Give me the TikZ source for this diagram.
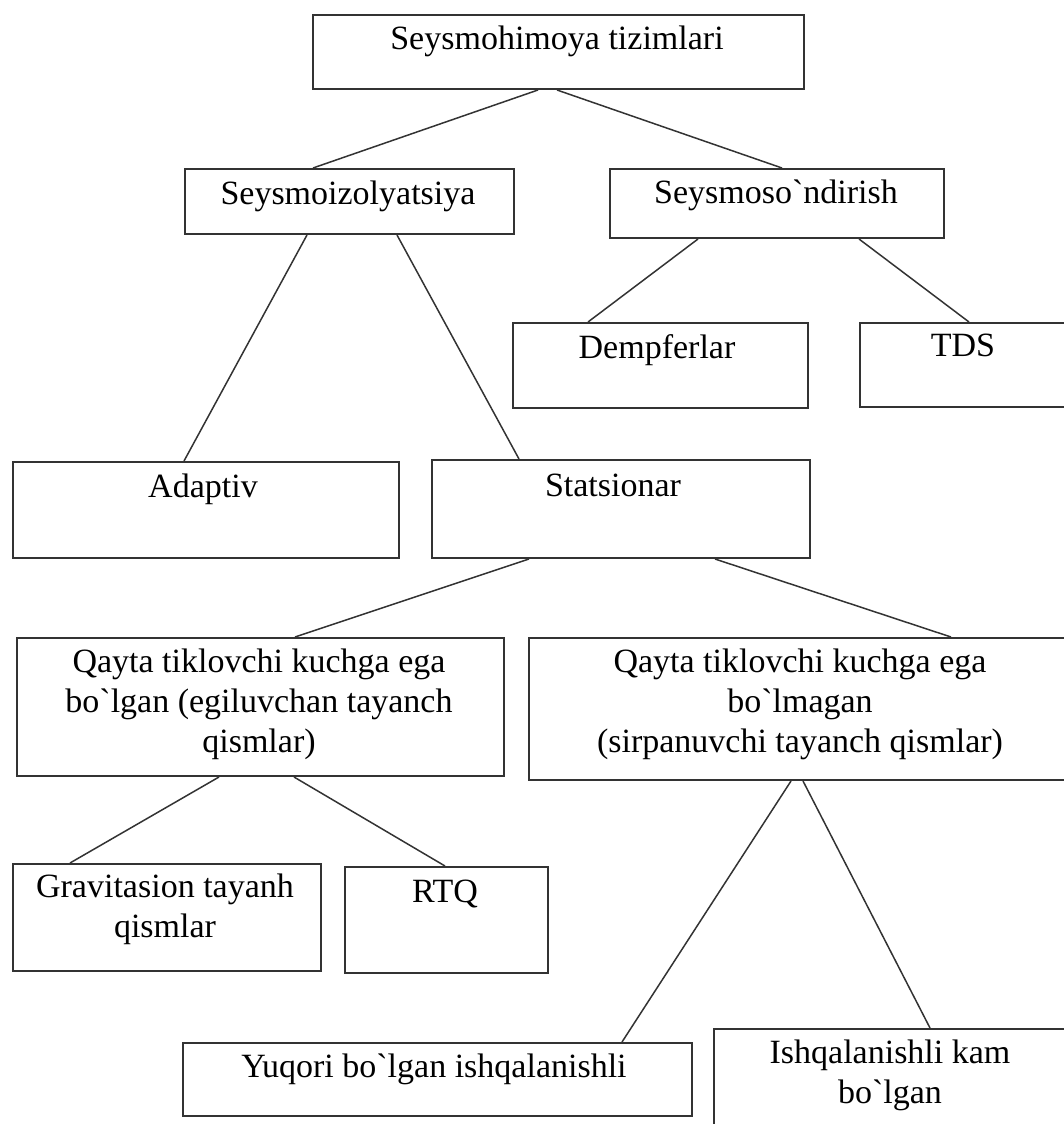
\documentclass[tikz,border=0pt]{standalone}
\usepackage{fontspec}
\newfontfamily\uzfont{Liberation Serif}
\tikzset{
    box/.style={draw=black!80, line width=2pt, inner sep=0pt, anchor=north west},
    txt/.style={font=\uzfont\fontsize{34}{40}\selectfont, align=center, anchor=base, inner sep=0pt},
    link/.style={draw=black!80, line width=1.5pt}
}
\begin{document}
\begin{tikzpicture}[x=1pt,y=-1pt]
    \clip (0,0) rectangle (1064,1124);

    % boxes
    \node[box, minimum width=491, minimum height=74] (sys) at (312,14) {};
    \node[box, minimum width=329, minimum height=65] (izol) at (184,168) {};
    \node[box, minimum width=334, minimum height=69] (sond) at (609,168) {};
    \node[box, minimum width=295, minimum height=85] (demp) at (512,322) {};
    \node[box, minimum width=208, minimum height=84] (tds) at (859,322) {};
    \node[box, minimum width=386, minimum height=96] (adap) at (12,461) {};
    \node[box, minimum width=378, minimum height=98] (stat) at (431,459) {};
    \node[box, minimum width=487, minimum height=138] (egil) at (16,637) {};
    \node[box, minimum width=544, minimum height=142] (sirp) at (528,637) {};
    \node[box, minimum width=308, minimum height=107] (grav) at (12,863) {};
    \node[box, minimum width=203, minimum height=106] (rtq) at (344,866) {};
    \node[box, minimum width=509, minimum height=73] (yuq) at (182,1042) {};
    \node[box, minimum width=355, minimum height=120] (kam) at (713,1028) {};

    % texts (multi-line ones sit on the baseline of their last line)
    \node[txt] (sysT) at (557,50) {Seysmohimoya tizimlari};
    \node[txt] (izolT) at (348,204) {Seysmoizolyatsiya};
    \node[txt] (sondT) at (776,203) {Seysmoso`ndirish};
    \node[txt] (dempT) at (657,358) {Dempferlar};
    \node[txt] (tdsT) at (963,356) {TDS};
    \node[txt] (adapT) at (203,497) {Adaptiv};
    \node[txt] (statT) at (613,496) {Statsionar};
    \node[txt] (egilT) at (259,752) {Qayta tiklovchi kuchga ega\\bo`lgan (egiluvchan tayanch\\qismlar)};
    \node[txt] (sirpT) at (800,752) {Qayta tiklovchi kuchga ega\\bo`lmagan\\(sirpanuvchi tayanch qismlar)};
    \node[txt] (gravT) at (165,937) {Gravitasion tayanh\\qismlar};
    \node[txt] (rtqT) at (445,902) {RTQ};
    \node[txt] (yuqT) at (434,1077) {Yuqori bo`lgan ishqalanishli};
    \node[txt] (kamT) at (890,1103) {Ishqalanishli kam\\bo`lgan};

    % connectors
    \draw[link] ([xshift=226pt]sys.south west) -- ([xshift=129pt]izol.north west);
    \draw[link] ([xshift=245pt]sys.south west) -- ([xshift=173pt]sond.north west);
    \draw[link] ([xshift=123pt]izol.south west) -- ([xshift=172pt]adap.north west);
    \draw[link] ([xshift=213pt]izol.south west) -- ([xshift=88pt]stat.north west);
    \draw[link] ([xshift=89pt]sond.south west) -- ([xshift=76pt]demp.north west);
    \draw[link] ([xshift=250pt]sond.south west) -- ([xshift=110pt]tds.north west);
    \draw[link] ([xshift=98pt]stat.south west) -- ([xshift=279pt]egil.north west);
    \draw[link] ([xshift=284pt]stat.south west) -- ([xshift=423pt]sirp.north west);
    \draw[link] ([xshift=203pt]egil.south west) -- ([xshift=58pt]grav.north west);
    \draw[link] ([xshift=278pt]egil.south west) -- ([xshift=101pt]rtq.north west);
    \draw[link] ([xshift=263pt]sirp.south west) -- ([xshift=440pt]yuq.north west);
    \draw[link] ([xshift=275pt]sirp.south west) -- ([xshift=217pt]kam.north west);
\end{tikzpicture}
\end{document}
